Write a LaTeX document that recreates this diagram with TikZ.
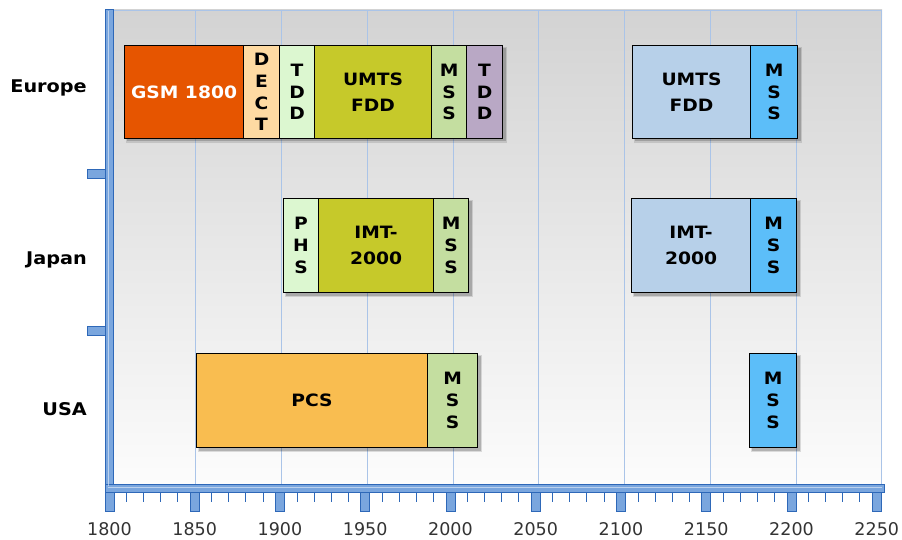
\documentclass[tikz,border=0pt]{standalone}
\usepackage{fontspec}
\setmainfont{DejaVu Sans}[BoldFeatures={FakeStretch=1.1}]
\definecolor{bgtop}{RGB}{211,211,211}
\definecolor{bgbot}{RGB}{252,252,252}
\definecolor{gridc}{RGB}{170,196,232}
\definecolor{axfill}{RGB}{122,166,222}
\definecolor{axdark}{RGB}{46,104,184}
\definecolor{cgsm}{RGB}{230,85,0}
\definecolor{cdect}{RGB}{254,218,162}
\definecolor{ctdd}{RGB}{220,247,208}
\definecolor{cumts}{RGB}{198,201,42}
\definecolor{cmss}{RGB}{196,222,160}
\definecolor{ctddb}{RGB}{185,168,197}
\definecolor{clblue}{RGB}{183,208,233}
\definecolor{cbblue}{RGB}{92,190,249}
\definecolor{cpcs}{RGB}{249,189,80}
\newcommand\seg[7]{\node[segbox, fill=#2, minimum width={#4-#3}, minimum height={#6-#5}, anchor=north west] (#1) at (#3,#5) {#7};}
\newcommand\shadowbox[4]{\fill[black, opacity=0.12] (#1+2,#3+2) rectangle (#2+5,#4+5); \fill[black, opacity=0.18] (#1+3,#3+3) rectangle (#2+3.5,#4+3.5);}
\begin{document}
\begin{tikzpicture}[x=1pt,y=-1pt,
  segbox/.style={draw=black, line width=1.1pt, inner sep=0pt, align=center,
    font=\bfseries\fontsize{17}{21.7}\selectfont},
  twoline/.style={font=\bfseries\fontsize{17}{26}\selectfont},
  catlabel/.style={anchor=base east, inner sep=0pt, font=\bfseries\fontsize{17.5}{20}\selectfont},
  yearlabel/.style={anchor=base, inner sep=0pt, font=\fontsize{17.5}{20}\selectfont, text=black!80},
  gridline/.style={draw=gridc, line width=0.8pt},
  axisbar/.style={draw=axdark, fill=axfill, line width=0.9pt},
  minortick/.style={draw=axdark, line width=0.9pt}]
\useasboundingbox (0,0) rectangle (902,540);
% plot background
\shade[top color=bgtop, bottom color=bgbot] (110,10) rectangle (882,485);
\foreach \k in {1,...,9} {\draw[gridline] (110+85.75*\k,10) -- (110+85.75*\k,485);}
\draw[gridline] (110,10) -- (882,10);
% shadows
\shadowbox{124}{502}{45}{138}
\shadowbox{632}{797}{45}{138}
\shadowbox{283}{468}{198}{292}
\shadowbox{631}{796}{198}{292}
\shadowbox{196}{477}{353}{447}
\shadowbox{749}{796}{353}{447}
% Europe
\seg{e1}{cgsm}{124}{243}{45}{138}{\textcolor{white}{GSM 1800}}
\seg{e2}{cdect}{243}{279}{45}{138}{D\\E\\C\\T}
\seg{e3}{ctdd}{279}{314}{45}{138}{T\\D\\D}
\node[segbox, twoline, fill=cumts, minimum width=117, minimum height=93, anchor=north west] (e4) at (314,45) {UMTS\\FDD};
\seg{e5}{cmss}{431}{466}{45}{138}{M\\S\\S}
\seg{e6}{ctddb}{466}{502}{45}{138}{T\\D\\D}
\node[segbox, twoline, fill=clblue, minimum width=118, minimum height=93, anchor=north west] (e7) at (632,45) {UMTS\\FDD};
\seg{e8}{cbblue}{750}{797}{45}{138}{M\\S\\S}
% Japan
\seg{j1}{ctdd}{283}{318}{198}{292}{P\\H\\S}
\node[segbox, twoline, fill=cumts, minimum width=115, minimum height=94, anchor=north west] (j2) at (318,198) {IMT-\\2000};
\seg{j3}{cmss}{433}{468}{198}{292}{M\\S\\S}
\node[segbox, twoline, fill=clblue, minimum width=119, minimum height=94, anchor=north west] (j4) at (631,198) {IMT-\\2000};
\seg{j5}{cbblue}{750}{796}{198}{292}{M\\S\\S}
% USA
\seg{u1}{cpcs}{196}{427}{353}{447}{PCS}
\seg{u2}{cmss}{427}{477}{353}{447}{M\\S\\S}
\seg{u3}{cbblue}{749}{796}{353}{447}{M\\S\\S}
% axes
\draw[axisbar] (105,9) rectangle (113,492);
\draw[axisbar] (105,484) rectangle (884,492);
\draw[white, opacity=0.5, line width=0.8pt] (108,11) -- (108,486);
\draw[white, opacity=0.5, line width=0.8pt] (108,487) -- (882,487);
\draw[axisbar] (87,169) rectangle (105,178);
\draw[axisbar] (87,326) rectangle (105,335);
\foreach \k/\yr in {0/1800,1/1850,2/1900,3/1950,4/2000,5/2050,6/2100,7/2150,8/2200,9/2250} {
  \draw[axisbar] (109.5+85.25*\k-4.5,492) rectangle (109.5+85.25*\k+4.5,511);
  \node[yearlabel] (y\yr) at (109.5+85.25*\k,535) {\yr};
}
\foreach \k in {0,...,8} {\foreach \j in {1,...,4} {\draw[minortick] (109.5+85.25*\k+17.05*\j,492) -- (109.5+85.25*\k+17.05*\j,502);}}
% category labels
\node[catlabel] (lEurope) at (87,93) {Europe};
\node[catlabel] (lJapan) at (87,264) {Japan};
\node[catlabel] (lUSA) at (87,415) {USA};
\end{tikzpicture}
\end{document}
